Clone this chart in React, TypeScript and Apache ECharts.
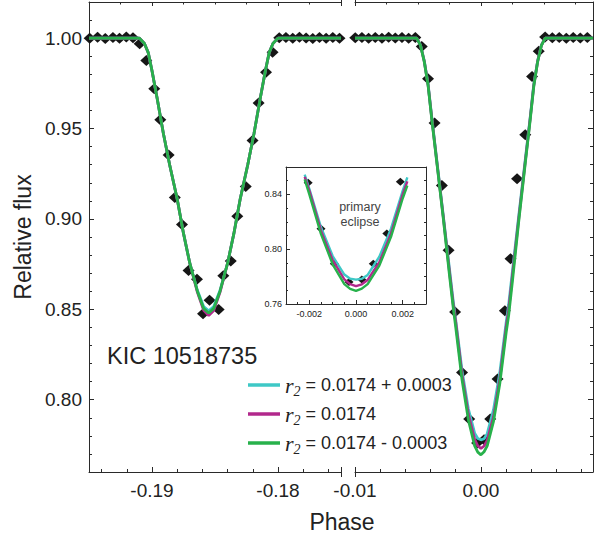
import React, { useEffect, useRef } from "react";
import * as echarts from "echarts";

// ---------- data ----------
// Secondary eclipse observations (phase, relative flux)
const secondaryPhase = [
  -0.19495, -0.19432, -0.19371, -0.1931, -0.19258, -0.19204, -0.19151, -0.19098, -0.19045, -0.18982,
  -0.18934, -0.18868, -0.18819, -0.18762, -0.1871, -0.18643, -0.18595, -0.18543, -0.18471, -0.18434,
  -0.18375, -0.18323, -0.18256, -0.18202, -0.18154, -0.18095, -0.18043, -0.1799, -0.17937, -0.17883,
  -0.1783, -0.17777, -0.17724, -0.17671, -0.17618, -0.17565, -0.17512,
];
const secondaryFlux = [
  1.0, 1.0005, 0.9998, 1.0003, 0.9999, 1.0006, 1.0002, 0.9969, 0.9877, 0.972,
  0.9548, 0.9354, 0.9119, 0.8969, 0.8715, 0.8666, 0.8476, 0.855, 0.8499, 0.8685,
  0.8767, 0.9015, 0.9179, 0.9434, 0.9641, 0.9812, 0.9922, 1.0002, 1.0004, 0.9999,
  1.0005, 1.0001, 0.9998, 1.0004, 1.0, 1.0003, 0.9999,
];

// Primary eclipse observations
const primaryPhase = [
  -0.00998, -0.00945, -0.00892, -0.00839, -0.00786, -0.00733, -0.0068, -0.00627, -0.00574, -0.00521,
  -0.0047, -0.0042, -0.00368, -0.0031, -0.00257, -0.00205, -0.0015, -0.00093, -0.0003, 0.00025,
  0.00074, 0.00132, 0.0019, 0.00235, 0.00287, 0.00352, 0.00406, 0.00459, 0.0051, 0.00567,
  0.00622, 0.00678, 0.00733, 0.00789, 0.00845,
];
const primaryFlux = [
  1.0002, 1.0004, 0.9999, 1.0003, 1.0, 1.0005, 1.0001, 1.0004, 0.9999, 1.0003,
  0.9954, 0.9775, 0.953, 0.9185, 0.8827, 0.8485, 0.815, 0.7893, 0.776, 0.7778,
  0.7893, 0.8115, 0.8492, 0.878, 0.9222, 0.9465, 0.9788, 0.9928, 1.0006, 1.0002,
  1.0004, 0.9999, 1.0003, 1.0001, 1.0004,
];

// Model curves, secondary eclipse
const secModelPhase = [
  -0.195, -0.191, -0.1906, -0.1903, -0.19, -0.1896, -0.1891, -0.1886, -0.188, -0.1875,
  -0.187, -0.1864, -0.1859, -0.1855, -0.1851, -0.1846, -0.184, -0.1835, -0.183, -0.1824,
  -0.1819, -0.1814, -0.181, -0.1807, -0.1804, -0.18, -0.175,
];
const secModelCyan = [
  1.0, 1.0, 0.997, 0.992, 0.982, 0.967, 0.9474, 0.93, 0.911, 0.892,
  0.8755, 0.8605, 0.8515, 0.8492, 0.8515, 0.8605, 0.8755, 0.892, 0.911, 0.93,
  0.9474, 0.967, 0.982, 0.992, 0.997, 1.0, 1.0,
];
const secModelMagenta = [
  1.0, 1.0, 0.997, 0.992, 0.982, 0.967, 0.9474, 0.93, 0.911, 0.892,
  0.8755, 0.8595, 0.8495, 0.8466, 0.8493, 0.8595, 0.8755, 0.892, 0.911, 0.93,
  0.9474, 0.967, 0.982, 0.992, 0.997, 1.0, 1.0,
];
const secModelGreen = [
  1.0, 1.0, 0.997, 0.992, 0.982, 0.967, 0.9474, 0.93, 0.911, 0.892,
  0.8755, 0.86, 0.8505, 0.848, 0.8505, 0.86, 0.8755, 0.892, 0.911, 0.93,
  0.9474, 0.967, 0.982, 0.992, 0.997, 1.0, 1.0,
];

// Model curves, primary eclipse
const priModelPhase = [
  -0.01, -0.0051, -0.0048, -0.0045, -0.0042, -0.0039, -0.0035, -0.003, -0.0025, -0.0022,
  -0.002, -0.0015, -0.001, -0.0005, -0.00025, 0, 0.00025, 0.0005, 0.001, 0.0015,
  0.002, 0.0022, 0.0025, 0.003, 0.0035, 0.0039, 0.0042, 0.0045, 0.0048, 0.0051, 0.0089,
];
const priModelCyan = [
  1.0, 1.0, 0.9962, 0.9875, 0.9748, 0.956, 0.9322, 0.9025, 0.8725, 0.8545,
  0.844, 0.816, 0.795, 0.7815, 0.7785, 0.7778, 0.7784, 0.7812, 0.7945, 0.815,
  0.8425, 0.8525, 0.871, 0.9015, 0.9315, 0.9555, 0.9745, 0.9873, 0.9961, 1.0, 1.0,
];
const priModelMagenta = [
  1.0, 1.0, 0.9961, 0.9872, 0.9744, 0.9555, 0.9316, 0.9018, 0.8708, 0.8528,
  0.8428, 0.8135, 0.792, 0.778, 0.7745, 0.773, 0.7744, 0.7775, 0.7905, 0.8115,
  0.84, 0.8495, 0.8685, 0.9, 0.9305, 0.9548, 0.974, 0.987, 0.996, 1.0, 1.0,
];
const priModelGreen = [
  1.0, 1.0, 0.996, 0.987, 0.974, 0.955, 0.931, 0.901, 0.869, 0.851,
  0.84, 0.811, 0.789, 0.7745, 0.771, 0.7695, 0.7712, 0.7745, 0.788, 0.809,
  0.837, 0.8465, 0.8655, 0.8985, 0.9295, 0.954, 0.9735, 0.9868, 0.9958, 1.0, 1.0,
];

const modelNames = ["r2 = 0.0174 + 0.0003", "r2 = 0.0174", "r2 = 0.0174 - 0.0003"];
const modelColors = ["#3ec8c6", "#b2288c", "#27b14b"];

// Tick values
const leftMajorX = [-0.19, -0.18];
const leftBottomMinorX = [-0.194, -0.192, -0.19, -0.188, -0.186, -0.184, -0.182, -0.18, -0.178, -0.176];
const leftTopMinorX = [-0.1925, -0.1875, -0.185, -0.1825, -0.1775];
const rightMajorX = [-0.01, 0];
const rightBottomMinorX = [-0.008, -0.006, -0.004, -0.002, 0, 0.002, 0.004, 0.006, 0.008];
const rightTopMinorX = [-0.0075, -0.005, -0.0025, 0.0025, 0.005, 0.0075];
const mainMajorY = [0.8, 0.85, 0.9, 0.95, 1.0];
const mainMinorY = [
  0.77, 0.78, 0.79, 0.8, 0.81, 0.82, 0.83, 0.84, 0.85, 0.86, 0.87, 0.88, 0.89,
  0.9, 0.91, 0.92, 0.93, 0.94, 0.95, 0.96, 0.97, 0.98, 0.99, 1.0, 1.01,
];
const insetMajorX = [-0.002, 0, 0.002];
const insetMinorX = [-0.0025, -0.0015, -0.001, -0.0005, 0.0005, 0.001, 0.0015, 0.0025];
const insetMajorY = [0.76, 0.8, 0.84];
const insetMinorY = [0.77, 0.78, 0.79, 0.81, 0.82, 0.83, 0.85];
const insetRightY = [0.77, 0.78, 0.79, 0.8, 0.81, 0.82, 0.83, 0.84, 0.85];

// ---------- helpers ----------
const FONT = "'Liberation Sans', Arial, sans-serif";
const SERIF = "'Liberation Serif', 'Times New Roman', serif";
const AX = "#2a2a2a";
const TXT = "#222";

const zip = (xs: number[], ys: number[]) => xs.map((x, i) => [x, ys[i]]);

type AxOpt = {
  line?: boolean;
  ticks?: number[];
  len?: number;
  inside?: boolean;
  labels?: number[] | null;
  fmt?: (v: number) => string;
  fontSize?: number;
  margin?: number;
  extra?: any;
};

function mkAxis(gridIndex: number, position: string, min: number, max: number, o: AxOpt) {
  const ticks = o.ticks || [];
  return {
    type: "value",
    gridIndex,
    position,
    min,
    max,
    axisLine: { show: !!o.line, onZero: false, lineStyle: { color: AX, width: 1 } },
    axisTick: {
      show: ticks.length > 0,
      inside: o.inside !== false,
      length: o.len ?? 3,
      customValues: ticks,
      lineStyle: { color: AX, width: 1 },
    },
    axisLabel: o.labels
      ? {
          show: true,
          customValues: o.labels,
          formatter: o.fmt,
          fontSize: o.fontSize ?? 19,
          color: TXT,
          margin: o.margin ?? 8,
          fontFamily: FONT,
        }
      : { show: false },
    splitLine: { show: false },
    minorTick: { show: false },
    ...(o.extra || {}),
  };
}

const f2 = (v: number) => (Math.abs(v) < 1e-9 ? "0.00" : v.toFixed(2));
const f3 = (v: number) => (Math.abs(v) < 1e-9 ? "0.000" : v.toFixed(3));

const L = [-0.195, -0.175];
const R = [-0.01, 0.0089];
const IX = [-0.003, 0.003];
const Y = [0.76, 1.02];
const IY = [0.76, 0.86];

const xAxes = [
  // grid 0 (left panel)
  mkAxis(0, "bottom", L[0], L[1], { line: true, ticks: [...leftMajorX, L[1]], len: 5, labels: leftMajorX, fmt: f2, margin: 9 }), // 0
  mkAxis(0, "bottom", L[0], L[1], { ticks: leftBottomMinorX, len: 3 }), // 1
  mkAxis(0, "bottom", L[0], L[1], { ticks: [L[1]], len: 5, inside: false }), // 2
  mkAxis(0, "top", L[0], L[1], { line: true, ticks: [...leftMajorX, L[1]], len: 4 }), // 3
  mkAxis(0, "top", L[0], L[1], { ticks: leftTopMinorX, len: 2.5 }), // 4
  mkAxis(0, "top", L[0], L[1], { ticks: [L[1]], len: 3, inside: false }), // 5
  // grid 1 (right panel)
  mkAxis(1, "bottom", R[0], R[1], { line: true, ticks: rightMajorX, len: 5, labels: rightMajorX, fmt: f2, margin: 9 }), // 6
  mkAxis(1, "bottom", R[0], R[1], { ticks: rightBottomMinorX, len: 3 }), // 7
  mkAxis(1, "bottom", R[0], R[1], { ticks: [R[0]], len: 5, inside: false }), // 8
  mkAxis(1, "top", R[0], R[1], { line: true, ticks: rightMajorX, len: 4 }), // 9
  mkAxis(1, "top", R[0], R[1], { ticks: rightTopMinorX, len: 2.5 }), // 10
  mkAxis(1, "top", R[0], R[1], { ticks: [R[0]], len: 3, inside: false }), // 11
  // grid 2 (inset)
  mkAxis(2, "bottom", IX[0], IX[1], { line: true, ticks: insetMajorX, len: 4, labels: insetMajorX, fmt: f3, fontSize: 9, margin: 5 }), // 12
  mkAxis(2, "bottom", IX[0], IX[1], { ticks: insetMinorX, len: 2 }), // 13
  mkAxis(2, "top", IX[0], IX[1], { line: true }), // 14
];

const yAxes = [
  mkAxis(0, "left", Y[0], Y[1], {
    line: true,
    ticks: mainMajorY,
    len: 5,
    labels: mainMajorY,
    fmt: f2,
    margin: 7,
    extra: {
      name: "Relative flux",
      nameLocation: "middle",
      nameGap: 55,
      nameTextStyle: { fontSize: 23, color: TXT, fontFamily: FONT },
    },
  }), // 0
  mkAxis(0, "left", Y[0], Y[1], { ticks: mainMinorY, len: 3 }), // 1
  mkAxis(1, "right", Y[0], Y[1], { line: true, ticks: mainMajorY, len: 5 }), // 2
  mkAxis(1, "right", Y[0], Y[1], { ticks: mainMinorY, len: 3 }), // 3
  mkAxis(2, "left", IY[0], IY[1], { line: true, ticks: insetMajorY, len: 4, labels: insetMajorY, fmt: f2, fontSize: 9, margin: 4 }), // 4
  mkAxis(2, "left", IY[0], IY[1], { ticks: insetMinorY, len: 2 }), // 5
  mkAxis(2, "right", IY[0], IY[1], { line: true, ticks: insetRightY, len: 2 }), // 6
];

const scatter = (xi: number, yi: number, data: number[][], size: number[]) => ({
  type: "scatter",
  xAxisIndex: xi,
  yAxisIndex: yi,
  data,
  symbol: "diamond",
  symbolSize: size,
  itemStyle: { color: "#161616", opacity: 1 },
  clip: true,
  z: 2,
  silent: true,
});

const line = (xi: number, yi: number, k: number, data: number[][], width: number) => ({
  type: "line",
  name: modelNames[k],
  xAxisIndex: xi,
  yAxisIndex: yi,
  data,
  symbol: "none",
  showSymbol: false,
  clip: true,
  lineStyle: { color: modelColors[k], width },
  itemStyle: { color: modelColors[k] },
  z: 3 + k,
  silent: true,
});

const secPoints = zip(secondaryPhase, secondaryFlux);
const priPoints = zip(primaryPhase, primaryFlux);
const secModels = [secModelCyan, secModelMagenta, secModelGreen].map((m) => zip(secModelPhase, m));
const priModels = [priModelCyan, priModelMagenta, priModelGreen].map((m) => zip(priModelPhase, m));
const insetModels = priModels.map((m) => m.filter((p) => Math.abs(p[0]) <= 0.00221));
const insetPoints = priPoints.filter((p) => Math.abs(p[0]) < 0.003);

const series: any[] = [
  scatter(0, 0, secPoints, [12, 11]),
  scatter(6, 2, priPoints, [12, 11]),
  scatter(12, 4, insetPoints, [9, 8]),
];
[0, 1, 2].forEach((k) => {
  series.push(line(0, 0, k, secModels[k], 2.8));
  series.push(line(6, 2, k, priModels[k], 2.8));
  series.push(line(12, 4, k, insetModels[k], 2.4));
});

const option: any = {
  animation: false,
  backgroundColor: "#fff",
  textStyle: { fontFamily: FONT },
  grid: [
    { left: 89, top: 2, width: 252, height: 470, outerBoundsMode: "none" },
    { left: 355, top: 2, width: 238, height: 470, outerBoundsMode: "none" },
    {
      left: 286,
      top: 167,
      width: 140,
      height: 137,
      show: true,
      backgroundColor: "#fff",
      borderWidth: 0,
      outerBoundsMode: "none",
    },
  ],
  xAxis: xAxes,
  yAxis: yAxes,
  legend: {
    orient: "vertical",
    left: 243,
    top: 369,
    icon: "rect",
    itemWidth: 32,
    itemHeight: 3.5,
    itemGap: 5,
    selectedMode: false,
    data: modelNames,
    formatter: (name: string) => "{r|r}{s|2}{t|" + name.slice(2) + "}",
    textStyle: {
      color: TXT,
      rich: {
        r: { fontFamily: SERIF, fontStyle: "italic", fontSize: 22, color: TXT },
        s: { fontFamily: SERIF, fontStyle: "italic", fontSize: 14, color: TXT, padding: [12, 0, 0, 0] },
        t: { fontFamily: FONT, fontSize: 18, color: TXT },
      },
    },
  },
  graphic: [
    {
      type: "text",
      x: 107,
      y: 356,
      style: { text: "KIC 10518735", fontSize: 23.5, fontFamily: FONT, fill: TXT, verticalAlign: "middle" },
    },
    {
      type: "text",
      x: 342,
      y: 522,
      style: { text: "Phase", fontSize: 23, fontFamily: FONT, fill: TXT, align: "center", verticalAlign: "middle" },
    },
    {
      type: "text",
      x: 360,
      y: 214,
      z: 10,
      style: {
        text: "primary\neclipse",
        fontSize: 12.5,
        lineHeight: 15,
        fontFamily: FONT,
        fill: "#444",
        align: "center",
        verticalAlign: "middle",
      },
    },
  ],
  series,
};

export default function App() {
  const ref = useRef<HTMLDivElement>(null);
  useEffect(() => {
    if (!ref.current) return;
    const chart = echarts.init(ref.current, null, { renderer: "svg" });
    chart.setOption(option);
    return () => chart.dispose();
  }, []);
  return (
    <div
      ref={ref}
      style={{ position: "absolute", left: 0, top: 0, width: 597, height: 540, background: "#fff" }}
    />
  );
}
